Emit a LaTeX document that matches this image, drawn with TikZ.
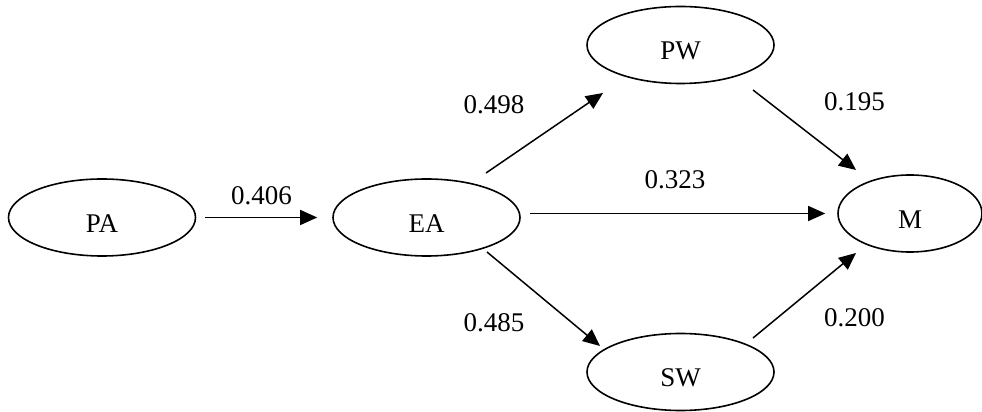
\documentclass[tikz,border=0pt]{standalone}
\usepackage{fontspec}
\setmainfont{Liberation Serif}
\usetikzlibrary{shapes.geometric,arrows.meta}
\begin{document}
\begin{tikzpicture}[x=1pt,y=1pt,
  font=\fontsize{27}{32}\selectfont,
  latent/.style={ellipse,draw,line width=1.6pt,minimum width=187pt,minimum height=77pt,
    inner sep=0pt,text height=30pt,text depth=0pt},
  path/.style={line width=1.5pt,-{Triangle[length=17pt,width=15pt]}},
  coef/.style={inner sep=0pt}]
\useasboundingbox (0,0) rectangle (982,412);
\clip (0,0) rectangle (982,412);

% constructs
\node[latent] (PA) at (102,194.5) {PA};
\node[latent] (EA) at (426.5,194.5) {EA};
\node[latent] (PW) at (680.5,367) {PW};
\node[latent] (SW) at (680.5,40) {SW};
\node[latent,minimum width=144pt] (M) at (910,198.5) {M};

% paths
\draw[path,shorten <=9pt,shorten >=15pt] (PA) -- (EA);
\draw[path,shorten <=9pt,shorten >=12pt] (EA.east |- M.west) -- (M.west);
\draw[path] ([shift={(59.5,44.5)}]EA.center) -- ([shift={(-77.5,-48)}]PW.center);
\draw[path] ([shift={(60.5,-34.5)}]EA.center) -- ([shift={(-80.5,26)}]SW.center);
\draw[path] ([shift={(72.5,-45)}]PW.center) -- ([shift={(-54,43.5)}]M.center);
\draw[path] ([shift={(72.5,34)}]SW.center) -- ([shift={(-54,-39.5)}]M.center);

% path coefficients
\node[coef] (c1) at (261.5,216) {0.406};
\node[coef] (c2) at (494,307) {0.498};
\node[coef] (c3) at (675,232) {0.323};
\node[coef] (c4) at (494,89) {0.485};
\node[coef] (c5) at (854.5,310) {0.195};
\node[coef] (c6) at (854.5,94) {0.200};
\end{tikzpicture}
\end{document}
